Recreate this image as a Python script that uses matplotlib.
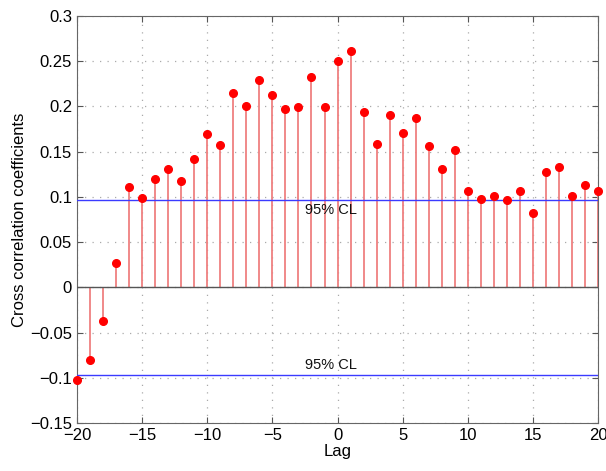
import matplotlib
matplotlib.use("Agg")
import matplotlib.pyplot as plt
import numpy as np

lags = list(range(-20, 21))
ccf = [-0.102, -0.080, -0.037, 0.027, 0.111, 0.099, 0.120, 0.131, 0.118, 0.142,
       0.170, 0.157, 0.215, 0.201, 0.229, 0.213, 0.197, 0.199, 0.233, 0.199,
       0.250, 0.261, 0.194, 0.158, 0.190, 0.171, 0.187, 0.156, 0.131, 0.152,
       0.107, 0.098, 0.101, 0.097, 0.106, 0.082, 0.127, 0.133, 0.101, 0.113,
       0.106]
cl = 0.097
xticks = [-20, -15, -10, -5, 0, 5, 10, 15, 20]
yticks = [-0.15, -0.1, -0.05, 0, 0.05, 0.1, 0.15, 0.2, 0.25, 0.3]
ytick_labels = ["\u22120.15", "\u22120.1", "\u22120.05", "0", "0.05", "0.1", "0.15", "0.2", "0.25", "0.3"]
xtick_labels = ["\u221220", "\u221215", "\u221210", "\u22125", "0", "5", "10", "15", "20"]

plt.rcParams['font.family'] = ['Liberation Sans', 'DejaVu Sans']
fig = plt.figure(figsize=(6.06, 4.71), dpi=100)
ax = fig.add_axes([0.127, 0.102, 0.860, 0.864])

ax.vlines(lags, 0, ccf, color='#ef8080', lw=1.3, zorder=2)
ax.plot(lags, ccf, 'o', color='#ff0000', ms=5.5, zorder=4, clip_on=False)
ax.axhline(0, color='#555555', lw=1.0, zorder=3)
ax.axhline(cl, color='#3b3bff', lw=1.0, zorder=3)
ax.axhline(-cl, color='#3b3bff', lw=1.0, zorder=3)
ax.text(-2.5, cl - 0.004, "95% CL", ha='left', va='top', fontsize=10.5, color='#111111')
ax.text(-2.5, -cl + 0.003, "95% CL", ha='left', va='bottom', fontsize=10.5, color='#111111')

ax.set_xlim(-20, 20)
ax.set_ylim(-0.15, 0.3)
ax.set_xticks(xticks)
ax.set_xticklabels(xtick_labels)
ax.set_yticks(yticks)
ax.set_yticklabels(ytick_labels)
ax.grid(True, linestyle=(0, (1, 5)), color='#aaaaaa', lw=0.9)
ax.tick_params(direction='in', top=True, right=True, labelsize=12, length=4, color='#555555')
for s in ax.spines.values():
    s.set_color('#666666')
ax.set_xlabel("Lag", fontsize=12, labelpad=1)
ax.set_ylabel("Cross correlation coefficients", fontsize=12, labelpad=2)

fig.savefig("out.png", dpi=100)
